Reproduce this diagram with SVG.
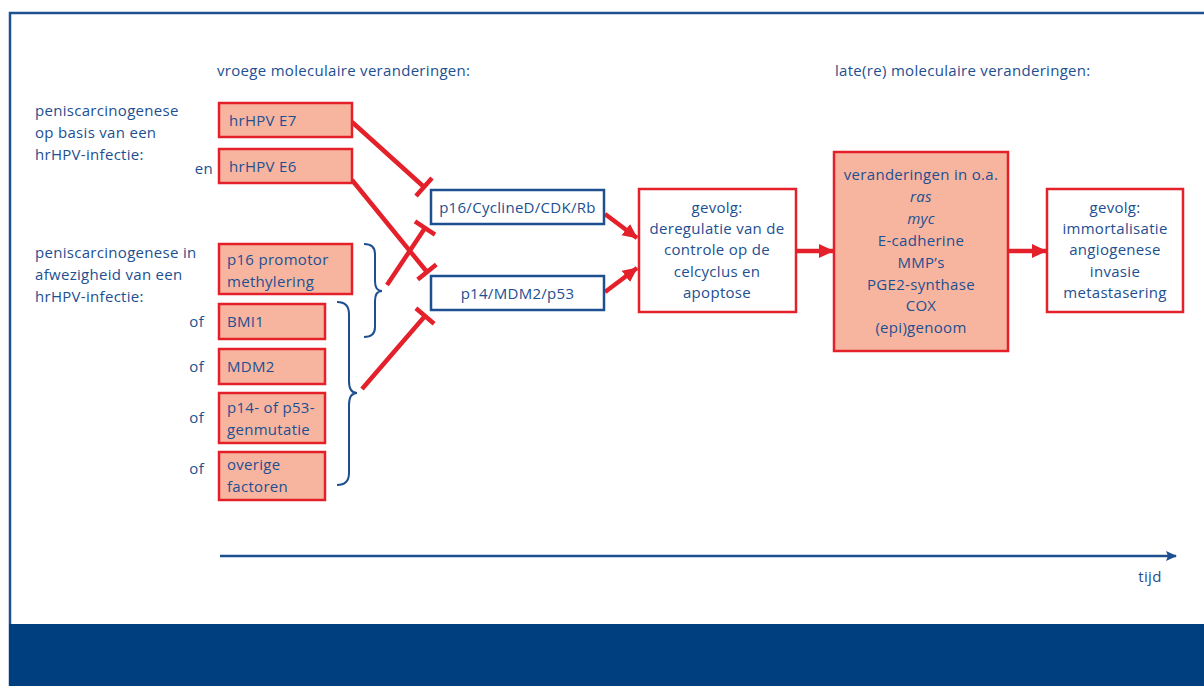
<svg xmlns="http://www.w3.org/2000/svg" width="1204" height="686" viewBox="0 0 1204 686">
<style>
text{font-family:"Open Sans","Liberation Sans",sans-serif;font-size:15px;letter-spacing:0.3px;fill:#1d4f91}
.c{text-anchor:middle}
.r{text-anchor:end}
.rb{fill:#f7b5a0;stroke:#e4202a;stroke-width:2.5}
.wb{fill:#fff;stroke:#e4202a;stroke-width:2.5}
.bb{fill:#fff;stroke:#1d4f91;stroke-width:2.5}
.ln{stroke:#e4202a;stroke-width:4.5;fill:none}
.br{stroke:#1d4f91;stroke-width:2;fill:none}
</style>
<defs>
<marker id="ah" markerUnits="userSpaceOnUse" markerWidth="16" markerHeight="16" refX="14" refY="8" orient="auto" viewBox="0 0 16 16">
<path d="M0,1 L15,8 L0,15 Z" fill="#e4202a"/>
</marker>
<marker id="bh" markerUnits="userSpaceOnUse" markerWidth="12" markerHeight="12" refX="10" refY="6" orient="auto" viewBox="0 0 12 12">
<path d="M0,1 L11,6 L0,11 L2,6 Z" fill="#1d4f91"/>
</marker>
</defs>
<rect width="1204" height="686" fill="#fff"/>
<path d="M10,686 V13 H1204" fill="none" stroke="#1d4f91" stroke-width="2.5"/>
<rect x="9" y="624" width="1195" height="62" fill="#003f7f"/>

<g id="headers">
<text x="217" y="76">vroege moleculaire veranderingen:</text>
<text x="835" y="76">late(re) moleculaire veranderingen:</text>
</g>
<g id="label-hpv">
<text x="35" y="116">peniscarcinogenese</text>
<text x="35" y="138">op basis van een</text>
<text x="35" y="160">hrHPV-infectie:</text>
<text class="r" x="213" y="174">en</text>
</g>
<g id="label-nohpv">
<text x="35" y="258">peniscarcinogenese in</text>
<text x="35" y="280">afwezigheid van een</text>
<text x="35" y="302">hrHPV-infectie:</text>
<text class="r" x="204" y="327">of</text>
<text class="r" x="204" y="372">of</text>
<text class="r" x="204" y="423">of</text>
<text class="r" x="204" y="474">of</text>
</g>

<g id="connectors">
<path class="ln" d="M352,122 L424,187 M416,196 L432,178"/>
<path class="ln" d="M352,180 L427,272 M417.7,279.6 L436.3,264.4"/>
<path class="ln" d="M387,285 L425,228 M435,234.7 L415,221.3"/>
<path class="ln" d="M362,389 L425,316 M434.1,323.8 L415.9,308.2"/>
<path class="ln" d="M605,214 L637,238" marker-end="url(#ah)"/>
<path class="ln" d="M605,292 L637,268" marker-end="url(#ah)"/>
<path class="ln" d="M796,251 L833,251" marker-end="url(#ah)"/>
<path class="ln" d="M1009,251 L1046,251" marker-end="url(#ah)"/>
<path class="br" d="M364,244 Q375,244 375,254 L375,281 Q375,291 382,291 Q375,291 375,301 L375,327 Q375,337 364,337"/>
<path class="br" d="M337,302 Q349,302 349,314 L349,381 Q349,393 357,393 Q349,393 349,405 L349,473 Q349,485 337,485"/>
<path d="M220,556 L1176,556" stroke="#1d4f91" stroke-width="2.5" fill="none" marker-end="url(#bh)"/>
</g>

<g id="n-e7"><rect class="rb" x="219" y="103" width="133" height="34"/><text x="229" y="126">hrHPV E7</text></g>
<g id="n-e6"><rect class="rb" x="219" y="149" width="133" height="34"/><text x="229" y="172">hrHPV E6</text></g>
<g id="n-p16prom"><rect class="rb" x="219" y="244" width="133" height="50"/><text x="227" y="265">p16 promotor</text><text x="227" y="287">methylering</text></g>
<g id="n-bmi1"><rect class="rb" x="219" y="304" width="106" height="35"/><text x="227" y="327">BMI1</text></g>
<g id="n-mdm2"><rect class="rb" x="219" y="349" width="106" height="35"/><text x="227" y="372">MDM2</text></g>
<g id="n-mut"><rect class="rb" x="219" y="393" width="106" height="50"/><text x="227" y="413">p14- of p53-</text><text x="227" y="435">genmutatie</text></g>
<g id="n-overig"><rect class="rb" x="219" y="452" width="106" height="48"/><text x="227" y="470">overige</text><text x="227" y="492">factoren</text></g>
<g id="n-p16"><rect class="bb" x="431" y="190" width="173" height="34"/><text class="c" x="517.5" y="213">p16/CyclineD/CDK/Rb</text></g>
<g id="n-p14"><rect class="bb" x="431" y="276" width="173" height="34"/><text class="c" x="517.5" y="299">p14/MDM2/p53</text></g>
<g id="n-gevolg1"><rect class="wb" x="639" y="189" width="157" height="123"/>
<text class="c" x="717" y="213">gevolg:</text>
<text class="c" x="717" y="234">deregulatie van de</text>
<text class="c" x="717" y="255">controle op de</text>
<text class="c" x="717" y="277">celcyclus en</text>
<text class="c" x="717" y="298">apoptose</text></g>
<g id="n-late"><rect class="rb" x="834" y="152" width="174" height="199"/>
<text class="c" x="921" y="180">veranderingen in o.a.</text>
<text class="c" x="921" y="202" font-style="italic">ras</text>
<text class="c" x="921" y="224" font-style="italic">myc</text>
<text class="c" x="921" y="246">E-cadherine</text>
<text class="c" x="921" y="268">MMP’s</text>
<text class="c" x="921" y="290">PGE2-synthase</text>
<text class="c" x="921" y="311">COX</text>
<text class="c" x="921" y="333">(epi)genoom</text></g>
<g id="n-gevolg2"><rect class="wb" x="1047" y="189" width="136" height="123"/>
<text class="c" x="1115" y="213">gevolg:</text>
<text class="c" x="1115" y="234">immortalisatie</text>
<text class="c" x="1115" y="255">angiogenese</text>
<text class="c" x="1115" y="277">invasie</text>
<text class="c" x="1115" y="298">metastasering</text></g>
<g id="axis-label"><text class="c" x="1150" y="582">tijd</text></g>
</svg>
